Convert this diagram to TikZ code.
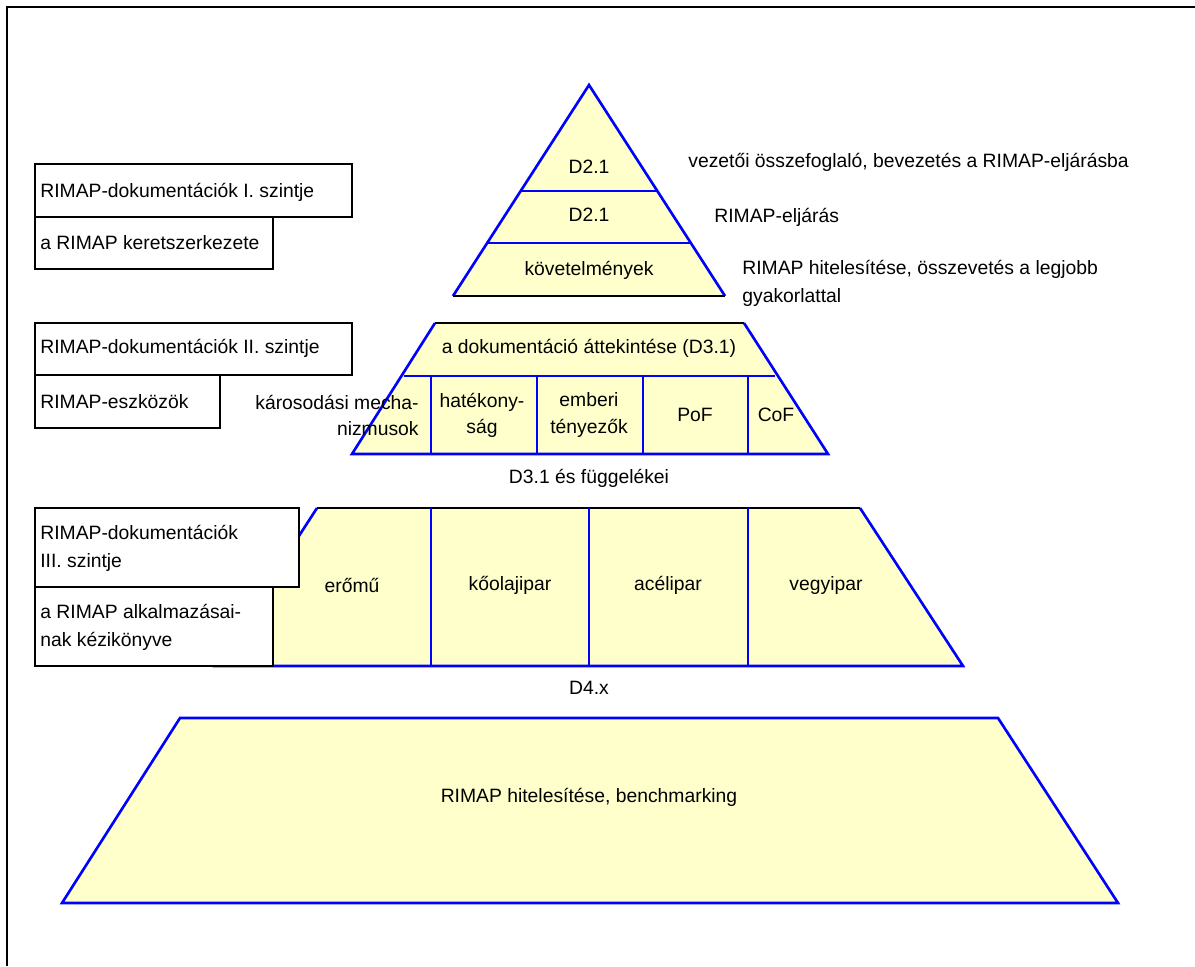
\documentclass[tikz,border=0pt]{standalone}
\usepackage{fontspec}
\setmainfont{Liberation Sans}
\usetikzlibrary{positioning}
\definecolor{pyrfill}{HTML}{FFFFCC}
\definecolor{pyrblue}{HTML}{0000FF}

\begin{document}
\begin{tikzpicture}[x=0.02cm, y=-0.02cm,
    every node/.style={inner sep=0pt, font=\fontsize{11}{16}\selectfont},
    tight/.style={font=\fontsize{11}{14.8}\selectfont},
    blueline/.style={draw=pyrblue, line width=1.5pt},
    blackline/.style={draw=black, line width=1.3pt},
    docbox/.style={draw=black, fill=white, line width=1.3pt}]
  \useasboundingbox (0,0) rectangle (1195,966);
  % frame
  \draw[blackline, line width=1.6pt] (7,966) -- (7,7) -- (1195,7);

  % level I: triangle
  \fill[pyrfill] (589,85) -- (725,296) -- (453,296) -- cycle;
  \draw[blueline] (453,296) -- (589,85) -- (725,296);
  \draw[blueline] (522,191) -- (658,191);
  \draw[blueline] (488,243) -- (690,243);
  \draw[blackline] (453,296) -- (725,296);
  \node (tri1) at (589,167) {D2.1};
  \node (tri2) at (589,215) {D2.1};
  \node (tri3) at (589,270) {követelmények};
  \node[anchor=west] (desc1) at (688,162) {vezetői összefoglaló, bevezetés a RIMAP-eljárásba};
  \node[anchor=west] (desc2) at (714,217) {RIMAP-eljárás};
  \node[anchor=west, align=left] (desc3) at (742,283) {RIMAP hitelesítése, összevetés a legjobb\\gyakorlattal};

  % level II
  \fill[pyrfill] (435,323) -- (744,323) -- (828,454) -- (352,454) -- cycle;
  \draw[blueline] (744,323) -- (828,454) -- (352,454) -- (435,323);
  \draw[blackline] (435,323) -- (744,323);
  \draw[blueline] (404,376) -- (775,376);
  \foreach \xx in {431,537,643,748}
    \draw[blueline] (\xx,376) -- (\xx,454);
  \node (overview) at (589,348) {a dokumentáció áttekintése (D3.1)};
  \node[tight, anchor=east, align=right] (damage) at (419,415) {károsodási mecha-\\nizmusok};
  \node[tight, align=center] (effic) at (482,415) {hatékony-\\ság};
  \node[tight, align=center] (human) at (589,415) {emberi\\tényezők};
  \node (pof) at (695,415) {PoF};
  \node (cof) at (776,415) {CoF};
  \node (lvl2cap) at (589,478) {D3.1 és függelékei};

  % level III
  \fill[pyrfill] (317,508) -- (860,508) -- (963,666) -- (215,666) -- cycle;
  \draw[blueline] (860,508) -- (963,666) -- (215,666) -- (317,508);
  \draw[blackline] (317,508) -- (860,508);
  \foreach \xx in {431,589,748}
    \draw[blueline] (\xx,508) -- (\xx,666);
  \node (power) at (352,585) {erőmű};
  \node (oil) at (510,585) {kőolajipar};
  \node (steel) at (668,585) {acélipar};
  \node (chem) at (826,585) {vegyipar};
  \node (lvl3cap) at (589,688) {D4.x};

  % validation
  \fill[pyrfill] (180,718) -- (998,718) -- (1118,903) -- (62,903) -- cycle;
  \draw[blueline] (180,718) -- (998,718) -- (1118,903) -- (62,903) -- cycle;
  \node (bench) at (589,797) {RIMAP hitelesítése, benchmarking};

  % document level boxes
  \draw[docbox] (35,164) rectangle (352,217);
  \draw[docbox] (35,217) rectangle (273,269);
  \node[anchor=west] (lev1) at (40,192) {RIMAP-dokumentációk I. szintje};
  \node[anchor=west] (frame) at (40,243) {a RIMAP keretszerkezete};
  \draw[docbox] (35,323) rectangle (352,375);
  \draw[docbox] (35,375) rectangle (220,428);
  \node[anchor=west] (lev2) at (40,348) {RIMAP-dokumentációk II. szintje};
  \node[anchor=west] (tools) at (40,402) {RIMAP-eszközök};
  \draw[docbox] (35,508) rectangle (299,587);
  \draw[docbox] (35,587) rectangle (273,666);
  \node[anchor=west, align=left] (lev3) at (40,548) {RIMAP-dokumentációk\\III. szintje};
  \node[anchor=west, align=left] (manual) at (40,627) {a RIMAP alkalmazásai-\\nak kézikönyve};
\end{tikzpicture}
\end{document}
